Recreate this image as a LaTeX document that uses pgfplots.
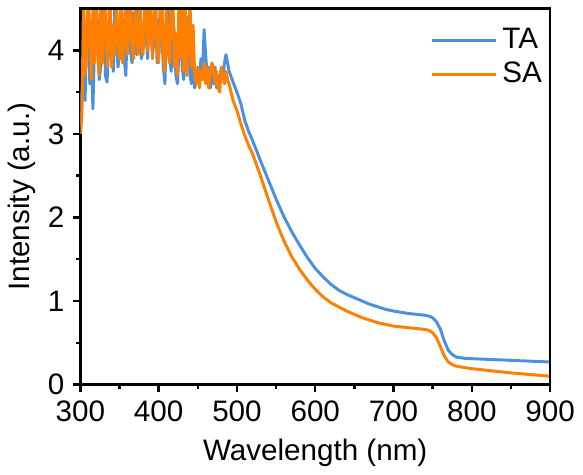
\documentclass[border=0pt]{standalone}
\usepackage{fontspec}
\setmainfont{Liberation Sans}
\usepackage{pgfplots}
\pgfplotsset{compat=1.18}
\definecolor{taBlue}{RGB}{74,144,226}
\definecolor{saOrange}{RGB}{255,127,0}

\pgfplotstableread{
x y
300 3.10
302 3.50
304 3.85
306 3.40
308 4.30
310 4.55
312 3.60
314 3.95
316 3.30
318 4.10
320 4.60
322 4.30
324 3.65
326 3.80
328 4.20
330 4.60
332 3.70
334 3.62
336 4.00
338 4.40
340 4.10
342 3.75
344 4.55
346 4.20
348 3.80
350 3.95
352 4.50
354 4.10
356 3.90
358 3.70
360 4.30
362 4.60
364 4.00
366 3.85
368 4.45
370 4.10
372 3.95
374 4.60
376 4.20
378 3.90
380 4.05
382 4.50
384 4.15
386 3.90
388 4.60
390 4.25
392 3.95
394 4.10
396 4.55
398 3.85
400 3.95
402 4.60
404 4.20
406 3.80
408 3.60
410 4.30
412 4.55
414 3.90
416 3.75
418 4.45
420 4.20
422 3.70
424 3.60
426 4.00
428 4.50
430 3.80
432 3.65
434 4.10
436 3.85
438 4.40
440 3.70
442 3.60
444 3.95
446 3.55
448 3.65
450 3.80
452 3.60
454 3.90
456 3.70
458 4.25
460 3.95
462 3.70
464 3.80
466 3.55
468 3.75
470 3.60
472 3.80
474 3.55
476 3.70
478 3.60
480 3.80
482 3.70
484 3.85
486 3.95
488 3.85
490 3.75
495 3.62
500 3.50
505 3.36
510 3.16
515 3.03
520 2.92
530 2.68
540 2.45
550 2.22
560 2.01
570 1.83
580 1.67
590 1.52
600 1.39
610 1.29
620 1.20
630 1.13
640 1.08
650 1.04
660 1.00
670 0.96
680 0.93
690 0.90
700 0.88
710 0.865
720 0.85
730 0.84
740 0.83
745 0.82
750 0.80
755 0.75
760 0.66
765 0.52
770 0.41
775 0.36
780 0.33
790 0.315
800 0.31
825 0.30
850 0.29
875 0.28
900 0.27
}\taTable

\pgfplotstableread{
x y
300 3.00
302 3.25
304 4.60
306 3.70
308 4.00
310 4.70
312 4.20
314 3.65
316 4.50
318 3.85
320 4.70
322 4.00
324 3.70
326 4.60
328 3.85
330 4.30
332 4.65
334 3.80
336 4.10
338 4.70
340 3.80
342 4.30
344 3.95
346 4.60
348 4.15
350 3.90
352 4.70
354 3.85
356 4.20
358 4.60
360 3.95
362 4.25
364 4.70
366 4.05
368 3.90
370 4.50
372 4.20
374 3.95
376 4.70
378 4.10
380 3.95
382 4.40
384 4.70
386 4.00
388 4.20
390 4.60
392 3.90
394 4.30
396 4.70
398 4.00
400 3.85
402 4.40
404 4.70
406 3.95
408 3.75
410 4.60
412 4.00
414 3.85
416 4.50
418 4.70
420 3.80
422 4.20
424 3.70
426 4.65
428 3.90
430 4.70
432 3.75
434 4.50
436 3.70
438 4.10
440 4.60
442 3.80
444 4.30
446 3.70
448 3.60
450 3.80
452 3.55
454 3.75
456 3.65
458 3.85
460 3.60
462 3.80
464 3.55
466 3.70
468 3.85
470 3.80
472 3.60
474 3.75
476 3.55
478 3.50
480 3.80
482 3.70
484 3.60
486 3.75
488 3.65
490 3.60
495 3.40
500 3.28
505 3.12
510 2.98
515 2.86
520 2.76
530 2.50
540 2.22
550 1.95
560 1.72
570 1.53
580 1.38
590 1.25
600 1.14
610 1.05
620 0.98
630 0.93
640 0.88
650 0.84
660 0.80
670 0.77
680 0.74
690 0.72
700 0.70
710 0.69
720 0.68
730 0.67
740 0.66
745 0.65
750 0.62
755 0.56
760 0.45
765 0.34
770 0.27
775 0.24
780 0.22
790 0.205
800 0.19
825 0.165
850 0.14
875 0.12
900 0.10
}\saTable

\begin{document}
\begin{tikzpicture}
\begin{axis}[
  name=ax,
  scale only axis,
  width=190.4pt, height=152.4pt,
  xmin=300, xmax=900, ymin=0, ymax=4.5,
  xtick={300,400,...,900},
  ytick={0,1,2,3,4},
  minor x tick num=1,
  minor y tick num=1,
  tick align=outside,
  xtick pos=bottom, ytick pos=left,
  major tick length=3pt, minor tick length=1.8pt,
  every tick/.style={black, line width=1pt},
  axis line style={black, line width=1pt},
  /pgf/number format/assume math mode=true,
  /pgf/number format/1000 sep={},
  ticklabel style={font=\fontsize{12}{13}\selectfont},
  label style={font=\fontsize{12}{13}\selectfont},
  xlabel={Wavelength (nm)},
  ylabel={Intensity (a.u.)},
  ylabel style={yshift=-2pt},
  legend style={draw=none, fill=none, at={(1.01,0.975)}, anchor=north east,
    font=\fontsize{12}{13}\selectfont, row sep=0pt},
  legend cell align=left,
  legend image code/.code={\draw[#1] (0pt,0pt) -- (26pt,0pt);},
]
\addplot[taBlue, line width=1.2pt, line join=round] table[x=x,y=y] {\taTable};
\addlegendentry{TA}
\addplot[saOrange, line width=1.2pt, line join=round] table[x=x,y=y] {\saTable};
\addlegendentry{SA}
\end{axis}
% closed frame on top and right, and a little room above it
\draw[black, line width=1.1pt, line cap=rect] (ax.north west) -- (ax.north east) -- (ax.south east);
\path (ax.north west) ++(0,3.5pt) coordinate (topmargin);
\end{tikzpicture}
\end{document}
